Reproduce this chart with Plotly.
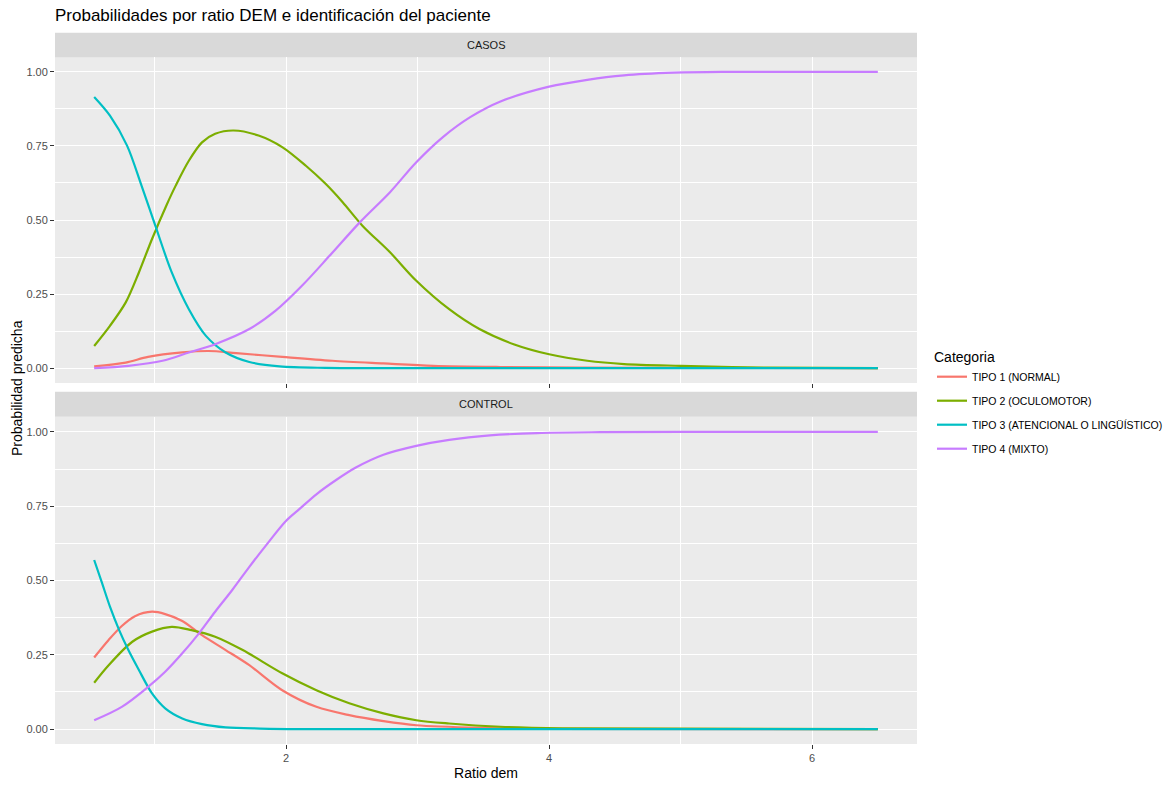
import plotly.graph_objects as go

# ---------------- data ----------------
categories = ["TIPO 1 (NORMAL)", "TIPO 2 (OCULOMOTOR)",
              "TIPO 3 (ATENCIONAL O LINGÜÍSTICO)", "TIPO 4 (MIXTO)"]
colors = ["#F8766D", "#7CAE00", "#00BFC4", "#C77CFF"]
panels = ["CASOS", "CONTROL"]

# CASOS
casos_t1_x = [0.54, 0.78, 0.95, 1.21, 1.41, 1.62, 1.97, 2.35, 2.74, 3.12, 3.63, 4.2, 5.0, 6.5]
casos_t1_y = [0.006, 0.019, 0.038, 0.053, 0.058, 0.051, 0.038, 0.025, 0.016, 0.008, 0.004, 0.002, 0.001, 0.0]
casos_t2_x = [0.54, 0.66, 0.78, 0.88, 0.98, 1.09, 1.16, 1.26, 1.36, 1.46, 1.60, 1.79, 1.97, 2.15,
              2.30, 2.43, 2.58, 2.79, 2.99, 3.24, 3.47, 3.73, 4.0, 4.29, 4.57, 5.0, 5.66, 6.5]
casos_t2_y = [0.075, 0.143, 0.222, 0.323, 0.436, 0.550, 0.616, 0.700, 0.762, 0.791, 0.802, 0.785,
              0.746, 0.683, 0.622, 0.560, 0.481, 0.391, 0.295, 0.199, 0.132, 0.081, 0.047, 0.025,
              0.014, 0.008, 0.002, 0.0]
casos_t3_x = [0.54, 0.66, 0.79, 0.90, 1.005, 1.13, 1.26, 1.39, 1.54, 1.72, 1.95, 2.3, 3.0, 6.5]
casos_t3_y = [0.915, 0.852, 0.751, 0.616, 0.481, 0.323, 0.199, 0.109, 0.053, 0.021, 0.006, 0.001, 0.0, 0.0]
casos_t4_x = [0.54, 0.80, 1.06, 1.26, 1.46, 1.72, 1.92, 2.12, 2.33, 2.56, 2.79, 2.99, 3.19, 3.40,
              3.63, 4.0, 4.29, 4.57, 4.95, 5.31, 6.5]
casos_t4_y = [0.0, 0.008, 0.025, 0.053, 0.081, 0.132, 0.194, 0.278, 0.379, 0.492, 0.594, 0.695,
              0.779, 0.847, 0.900, 0.950, 0.973, 0.988, 0.997, 1.0, 1.0]

# CONTROL
control_t1_x = [0.54, 0.65, 0.75, 0.85, 0.98, 1.08, 1.21, 1.36, 1.54, 1.72, 1.97, 2.23, 2.48,
                2.74, 2.99, 3.5, 4.0, 6.5]
control_t1_y = [0.241, 0.300, 0.347, 0.380, 0.395, 0.387, 0.364, 0.316, 0.266, 0.215, 0.131,
                0.075, 0.047, 0.027, 0.013, 0.004, 0.001, 0.0]
control_t2_x = [0.54, 0.65, 0.83, 0.98, 1.13, 1.28, 1.46, 1.67, 1.97, 2.23, 2.48, 2.74, 2.99,
                3.24, 3.63, 4.1, 6.5]
control_t2_y = [0.156, 0.215, 0.294, 0.328, 0.344, 0.333, 0.311, 0.266, 0.188, 0.131, 0.087,
                0.053, 0.030, 0.019, 0.008, 0.003, 0.0]
control_t3_x = [0.54, 0.60, 0.66, 0.73, 0.80, 0.88, 0.98, 1.08, 1.21, 1.36, 1.54, 1.8, 2.2, 6.5]
control_t3_y = [0.569, 0.491, 0.412, 0.333, 0.266, 0.199, 0.120, 0.070, 0.036, 0.017, 0.006,
                0.002, 0.0, 0.0]
control_t4_x = [0.54, 0.75, 0.95, 1.08, 1.21, 1.34, 1.46, 1.59, 1.72, 1.85, 2.0, 2.10, 2.23,
                2.38, 2.53, 2.74, 2.99, 3.24, 3.55, 3.91, 4.39, 5.0, 6.5]
control_t4_y = [0.030, 0.075, 0.142, 0.193, 0.255, 0.324, 0.395, 0.468, 0.546, 0.620, 0.701,
                0.740, 0.790, 0.838, 0.880, 0.923, 0.953, 0.973, 0.988, 0.996, 0.999, 1.0, 1.0]

x_ticks = [2, 4, 6]
y_ticks = [0.0, 0.25, 0.50, 0.75, 1.00]
y_tick_labels = ["0.00", "0.25", "0.50", "0.75", "1.00"]

series = {
    "CASOS": [(casos_t1_x, casos_t1_y), (casos_t2_x, casos_t2_y),
              (casos_t3_x, casos_t3_y), (casos_t4_x, casos_t4_y)],
    "CONTROL": [(control_t1_x, control_t1_y), (control_t2_x, control_t2_y),
                (control_t3_x, control_t3_y), (control_t4_x, control_t4_y)],
}

# ---------------- figure ----------------
FONT = "Liberation Sans Narrow, Arial Narrow, Liberation Sans, Arial, sans-serif"
W, H = 1165, 787
ML, MR, MT, MB = 55, 248, 57, 43
PW, PH = W - ML - MR, H - MT - MB

def py(px):  # pixel y -> paper y
    return (H - MB - px) / PH

def pxx(px):  # pixel x -> paper x
    return (px - ML) / PW

fig = go.Figure()
axis_ids = {"CASOS": ("x", "y"), "CONTROL": ("x2", "y2")}
for p in panels:
    xa, ya = axis_ids[p]
    for i, (cat, col) in enumerate(zip(categories, colors)):
        xs, ys = series[p][i]
        fig.add_trace(go.Scatter(
            x=xs, y=ys, mode="lines", name=cat, xaxis=xa, yaxis=ya,
            line=dict(color=col, width=2.2, shape="spline", smoothing=0.9),
            legendgroup=cat, showlegend=(p == "CASOS"),
        ))

all_x = [v for p in panels for xs, _ in series[p] for v in xs]
xmin, xmax = min(all_x), max(all_x)
xpad = (xmax - xmin) * 0.05
xrange = [xmin - xpad, xmax + xpad]
yrange = [-0.05, 1.05]

common_x = dict(range=xrange, tickvals=x_ticks, ticks="outside", ticklen=4,
                tickcolor="#333333", tickwidth=1, showgrid=True, gridcolor="white",
                gridwidth=1.4, zeroline=False, showline=False, automargin=False,
                minor=dict(tick0=0, dtick=1, showgrid=True, gridcolor="white", gridwidth=0.7),
                tickfont=dict(family=FONT, size=11, color="#4D4D4D"))
common_y = dict(range=yrange, tickvals=y_ticks, ticktext=y_tick_labels, ticks="outside",
                ticklen=4, tickcolor="#333333", tickwidth=1, showgrid=True,
                gridcolor="white", gridwidth=1.4, zeroline=False, showline=False,
                automargin=False,
                minor=dict(tick0=0.125, dtick=0.25, showgrid=True, gridcolor="white", gridwidth=0.7),
                tickfont=dict(family=FONT, size=11, color="#4D4D4D"))

top_dom = [py(383), 1.0]
bot_dom = [0.0, py(417)]

fig.update_layout(
    width=W, height=H,
    margin=dict(l=ML, r=MR, t=MT, b=MB, autoexpand=False),
    paper_bgcolor="white", plot_bgcolor="#EBEBEB",
    font=dict(family=FONT, color="black"),
    xaxis=dict(domain=[0, 1], anchor="y", matches="x2", showticklabels=False, **common_x),
    yaxis=dict(domain=top_dom, anchor="x", **common_y),
    xaxis2=dict(domain=[0, 1], anchor="y2",
                title=dict(text="Ratio dem", font=dict(family=FONT, size=14, color="black"),
                           standoff=4),
                **common_x),
    yaxis2=dict(domain=bot_dom, anchor="x2", **common_y),
    title=dict(text="Probabilidades por ratio DEM e identificación del paciente",
               x=ML / W, xanchor="left", xref="container",
               y=1 - 15 / H, yanchor="middle", yref="container",
               font=dict(family=FONT, size=17, color="black")),
    legend=dict(x=pxx(932), y=py(344), xanchor="left", yanchor="top",
                title=dict(text="Categoria", font=dict(family=FONT, size=14, color="black")),
                font=dict(family=FONT, size=10.5, color="black"),
                traceorder="grouped", tracegroupgap=5, itemwidth=30,
                bgcolor="rgba(0,0,0,0)"),
    showlegend=True,
)

# facet strips
strips = [("CASOS", 32.7, 57.3), ("CONTROL", 391.7, 416.7)]
for label, top, bottom in strips:
    fig.add_shape(type="rect", xref="paper", yref="paper", x0=0, x1=1,
                  y0=py(bottom), y1=py(top), fillcolor="#D9D9D9", line=dict(width=0),
                  layer="below")
    fig.add_annotation(text=label, xref="paper", yref="paper", x=0.5,
                       y=(py(bottom) + py(top)) / 2, xanchor="center", yanchor="middle",
                       showarrow=False, font=dict(family=FONT, size=11, color="#1A1A1A"))

# y axis title shared
fig.add_annotation(text="Probabilidad predicha", xref="paper", yref="paper",
                   x=pxx(17), y=py(388), textangle=-90, xanchor="center", yanchor="middle",
                   showarrow=False, font=dict(family=FONT, size=14, color="black"))

fig.write_html("out.html", config={"displayModeBar": False},
               post_script="document.body.style.margin='0px';document.body.style.overflow='hidden';")
